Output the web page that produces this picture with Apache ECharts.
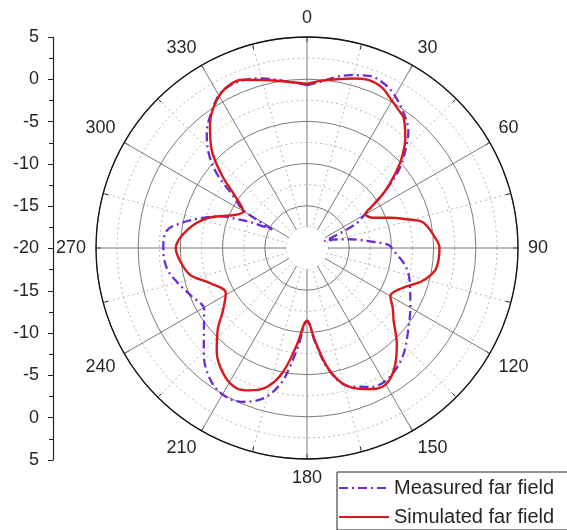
<!DOCTYPE html>
<html>
<head>
<meta charset="utf-8">
<script src="https://cdn.jsdelivr.net/npm/echarts@6/dist/echarts.min.js"></script>
<style>
  html, body { margin: 0; padding: 0; background: #fff; }
  #chart { width: 567px; height: 530px; }
</style>
</head>
<body>
<div id="chart"></div>
<script>
// Far-field radiation pattern (dB) against azimuth angle (degrees)
const simAngles = [0, 5, 10, 15, 20, 25, 29, 33, 37, 42, 46.5, 50, 54, 57, 60, 62.5, 65, 70, 73.5, 77, 80, 84, 90,
  95, 100, 106, 113, 120, 125, 130, 137, 143, 148.5, 153, 157.5, 164.5, 170, 175, 180,
  186, 191, 196, 202, 206.5, 213, 221, 228, 233, 241, 250, 257, 264, 270,
  279, 287, 294.6, 299.7, 306, 310.6, 316, 321.7, 327, 333, 339, 345, 352.5, 360];
const simGain = [-0.55, -0.1, 0.3, 0.8, 1.2, 1.0, 0.3, -0.3, -0.9, -2.6, -4.55, -6.4, -8.6, -10.6, -12.0, -11.9, -11.5, -9.5, -7.9, -6.05, -5.5, -4.95, -4.3,
  -4.35, -4.6, -5.8, -7.8, -8.6, -7.6, -6.6, -4.4, -2.65, -1.5, -1.35, -1.9, -3.15, -5.5, -8.9, -11.4,
  -8.45, -5.0, -2.9, -1.8, -1.4, -2.0, -3.7, -5.8, -7.5, -9.0, -7.8, -5.8, -4.9, -4.45,
  -5.75, -7.8, -10.6, -11.3, -9.4, -6.7, -3.7, -1.45, 0.15, 1.25, 1.35, 0.6, -0.1, -0.55];

const measAngles = [0, 5, 10, 14, 20, 24, 28.5, 35, 41, 45.5, 50, 54, 57, 60, 64, 68.5, 72, 78.5, 84, 88,
  92, 100, 108, 119, 130, 139, 148, 155, 163, 170, 175, 180,
  185, 188.5, 191, 196, 203, 209.5, 216, 224, 232, 239, 248, 255.5, 262, 270,
  277, 281, 285.5, 290, 293, 295, 298, 300.8, 305, 309.6, 314, 319, 325, 331, 338, 345, 352, 360];
const measGain = [-0.7, -0.2, 0.6, 1.1, 1.7, 1.6, 1.1, -0.2, -1.7, -3.7, -5.9, -8.6, -10.6, -12.1, -13.7, -17.8, -16.8, -14.8, -12.5, -10.3,
  -9.7, -8.2, -7.2, -6.0, -4.4, -2.8, -1.8, -1.85, -2.85, -5.4, -8.8, -11.3,
  -8.4, -5.5, -3.6, -1.5, -0.2, 0.05, -0.6, -2.4, -4.5, -5.8, -5.1, -4.05, -3.2, -2.97,
  -3.25, -4.7, -6.85, -9.0, -11.5, -13.0, -15.5, -11.2, -9.4, -6.1, -3.8, -1.9, -0.3, 1.05, 1.3, 0.8, 0.0, -0.7];

const angleTickLabels = ['0', '30', '60', '90', '120', '150', '180', '210', '240', '270', '300', '330'];
const gainTickLabels = ['5', '0', '-5', '-10', '-15', '-20', '-15', '-10', '-5', '0', '5'];

const seriesNames = ['Measured far field', 'Simulated far field'];

const FONT = '"Liberation Sans", Arial, sans-serif';
const TEXT = '#262626';
const CX = 307, CY = 248, R = 211;

const toPairs = (angles, gains) => angles.map((a, i) => [gains[i], a]);

const chart = echarts.init(document.getElementById('chart'), null, { renderer: 'canvas' });

chart.setOption({
  animation: false,
  backgroundColor: '#ffffff',
  textStyle: { fontFamily: FONT },
  polar: { center: [CX, CY], radius: R },
  angleAxis: {
    type: 'value', min: 0, max: 360, interval: 30,
    startAngle: 90, clockwise: true,
    axisLine: { show: true, lineStyle: { color: '#111', width: 1.3 } },
    axisTick: { show: true, inside: true, length: 5, lineStyle: { color: '#111' } },
    minorTick: { show: true, splitNumber: 2, length: 5, lineStyle: { color: '#111' } },
    axisLabel: {
      margin: 10, fontSize: 18, color: TEXT, fontFamily: FONT,
      formatter: v => (v >= 360 ? '' : angleTickLabels[Math.round(v / 30)])
    },
    splitLine: { show: true, lineStyle: { color: '#7a7a7a', width: 1 } },
    minorSplitLine: { show: true, lineStyle: { color: '#b5b5b5', width: 1, type: [2, 3] } }
  },
  radiusAxis: {
    type: 'value', min: -20, max: 5, interval: 5,
    axisLine: { show: false }, axisTick: { show: false }, axisLabel: { show: false },
    splitLine: { show: true, lineStyle: { color: '#7a7a7a', width: 1 } },
    minorTick: { show: false, splitNumber: 2 },
    minorSplitLine: { show: true, lineStyle: { color: '#b5b5b5', width: 1, type: [2, 3] } }
  },
  grid: { left: 53, top: 37, height: 423, width: 1 },
  xAxis: { type: 'value', show: false, min: 0, max: 1 },
  yAxis: {
    type: 'value', min: -25, max: 25, interval: 5,
    axisLine: { show: true, lineStyle: { color: '#222', width: 1.2 } },
    axisTick: { show: true, length: 5, lineStyle: { color: '#222' } },
    minorTick: { show: true, splitNumber: 2, length: 4, lineStyle: { color: '#222' } },
    splitLine: { show: false },
    axisLabel: {
      margin: 14, fontSize: 18, color: TEXT, fontFamily: FONT,
      formatter: v => gainTickLabels[Math.round((25 - v) / 5)]
    }
  },
  graphic: {
    elements: [{
      type: 'circle', z: 1, silent: true,
      shape: { cx: CX, cy: CY, r: 21 },
      style: { fill: '#ffffff' }
    }]
  },
  legend: {
    orient: 'vertical', left: 337, top: 472,
    data: seriesNames,
    itemWidth: 50, itemHeight: 14, itemGap: 9,
    padding: [6, 40, 3, 1],
    borderColor: '#222', borderWidth: 1,
    backgroundColor: '#fff',
    itemStyle: { opacity: 0 },
    textStyle: { fontSize: 20, color: TEXT, fontFamily: FONT }
  },
  series: [
    {
      name: seriesNames[0], type: 'line', coordinateSystem: 'polar',
      data: toPairs(measAngles, measGain),
      smooth: 0.35, symbol: 'none', showSymbol: false, z: 5,
      lineStyle: { color: '#6a2cd4', width: 2.3, type: [9, 4, 2, 4] },
      itemStyle: { color: '#6a2cd4' }
    },
    {
      name: seriesNames[1], type: 'line', coordinateSystem: 'polar',
      data: toPairs(simAngles, simGain),
      smooth: 0.35, symbol: 'none', showSymbol: false, z: 6,
      lineStyle: { color: '#d8191b', width: 2.4 },
      itemStyle: { color: '#d8191b' }
    }
  ]
});
</script>
</body>
</html>
